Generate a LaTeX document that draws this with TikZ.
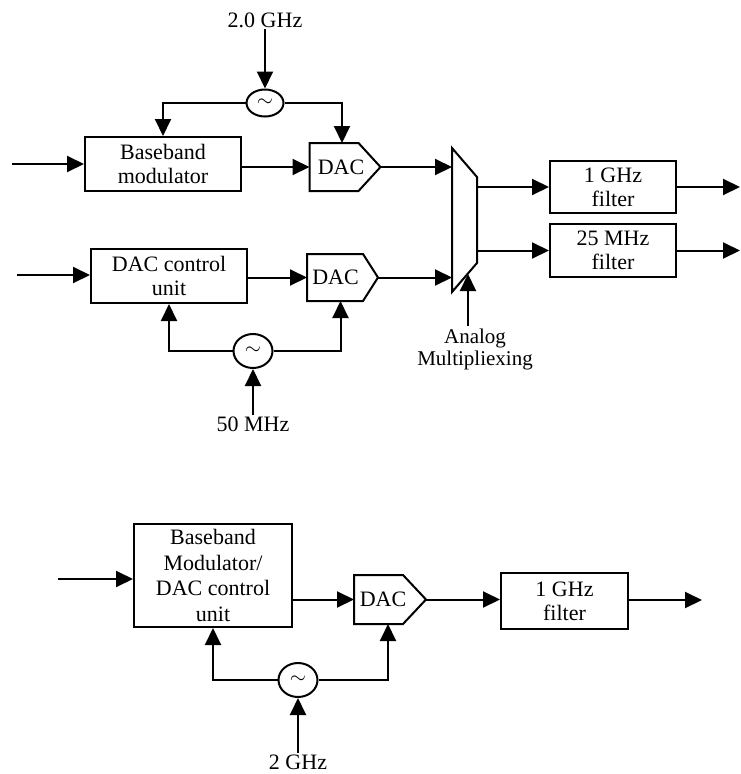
\documentclass[tikz,border=0pt]{standalone}
\usepackage{fontspec}
\setmainfont{Liberation Serif}
\usetikzlibrary{arrows.meta,shapes.geometric,calc}
\begin{document}
\begin{tikzpicture}[x=1pt,y=-1pt,
  line width=2pt,
  every node/.style={font=\fontsize{22}{24}\selectfont, align=center},
  arr/.style={-{Triangle[length=17pt,width=16pt]}},
  blk/.style={draw, rectangle, inner sep=0pt},
  dacbody/.style={rectangle, inner sep=0pt, minimum width=69pt, minimum height=46pt},
  osc/.style={draw, ellipse, inner sep=0pt},
  tld/.style={font=\fontsize{22}{22}\selectfont},
  lbl/.style={inner sep=1pt}]
\useasboundingbox (0,0) rectangle (740,774);

% ---------- top section ----------
\node[lbl] (l20) at (265,20) {2.0 GHz};
\node[osc, tld, minimum width=37pt, minimum height=27pt] (osc1) at (265,103) {$\sim$};
\node[blk, minimum width=156pt, minimum height=54pt] (bbm) at (163,164) {Baseband\\modulator};
\node[dacbody] (dac1) at (345,167) {};
\node at ($(dac1.center)+(-4,0)$) {DAC};
\draw (dac1.north west) -- ([xshift=-22pt]dac1.north east) -- (dac1.east) -- ([xshift=-22pt]dac1.south east) -- (dac1.south west) -- cycle;
\coordinate (in1) at (12,164);

\node[blk, minimum width=156pt, minimum height=54pt] (dcu) at (169,276) {DAC control\\unit};
\node[dacbody, minimum width=69pt, minimum height=45pt] (dac2) at (342.5,277.5) {};
\node at ($(dac2.center)+(-7,0)$) {DAC};
\draw (dac2.north west) -- ([xshift=-15pt]dac2.north east) -- (dac2.east) -- ([xshift=-15pt]dac2.south east) -- (dac2.south west) -- cycle;
\coordinate (in2) at (17,275);
\node[osc, tld, minimum width=39pt, minimum height=34pt] (osc2) at (253,351) {$\sim$};
\node[lbl] (l50) at (253,424) {50 MHz};

% multiplexer
\coordinate (m1) at (452,148);
\coordinate (m2) at (477,177);
\coordinate (m3) at (477,263);
\coordinate (m4) at (452,292);
\coordinate (mb) at (468,274);
\draw (m1) -- (m2) -- (m3) -- (m4) -- cycle;
\node[lbl, font=\fontsize{21}{22}\selectfont] (mlbl) at (475,349) {Analog\\Multipliexing};

\node[blk, minimum width=126pt, minimum height=52pt] (f1) at (613,187) {1 GHz\\filter};
\node[blk, minimum width=126pt, minimum height=53pt] (f2) at (613,250.5) {25 MHz\\filter};
\coordinate (o1) at (740,187);
\coordinate (o2) at (740,250.5);

% connectors top
\draw[arr] (l20.south) -- (osc1.north);
\draw[arr] (osc1.west) -| (bbm.north);
\draw[arr] (osc1.east) -| ([xshift=-3pt]dac1.north);
\draw[arr] (in1) -- (in1 -| bbm.west);
\draw[arr] (bbm.east |- dac1.west) -- (dac1.west);
\draw[arr] (dac1.east) -- (dac1.east -| m1);
\draw[arr] (in2) -- (in2 -| dcu.west);
\draw[arr] (dcu.east |- dac2.west) -- (dac2.west);
\draw[arr] (dac2.east) -- (dac2.east -| m4);
\draw[arr] (osc2.west) -| (dcu.south);
\draw[arr] (osc2.east) -| ([xshift=-2pt]dac2.south);
\draw[arr] (l50.north) -- (osc2.south);
\draw[arr] (mlbl.north -| mb) -- (mb);
\draw[arr] (m2 |- f1.west) -- (f1.west);
\draw[arr] (m3 |- f2.west) -- (f2.west);
\draw[arr] (f1.east) -- (o1);
\draw[arr] (f2.east) -- (o2);

% ---------- bottom section ----------
\node[blk, minimum width=158pt, minimum height=103pt, font=\fontsize{22}{25.5}\selectfont] (big) at (213,575.5) {Baseband\\Modulator/\\DAC control\\unit};
\coordinate (in3) at (58,579);
\node[dacbody, minimum width=70pt, minimum height=47pt] (dac3) at (390,599.5) {};
\node at ($(dac3.center)+(-7,0)$) {DAC};
\draw (dac3.north west) -- ([xshift=-23pt]dac3.north east) -- (dac3.east) -- ([xshift=-23pt]dac3.south east) -- (dac3.south west) -- cycle;
\node[blk, minimum width=127pt, minimum height=56pt] (f3) at (564.5,601) {1 GHz\\filter};
\coordinate (o3) at (702,600);
\node[osc, tld, minimum width=39pt, minimum height=34pt] (osc3) at (298,680) {$\sim$};
\node[lbl] (l2) at (298,762) {2 GHz};

\draw[arr] (in3) -- (in3 -| big.west);
\draw[arr] (big.east |- dac3.west) -- (dac3.west);
\draw[arr] (dac3.east) -- (dac3.east -| f3.west);
\draw[arr] (f3.east |- o3) -- (o3);
\draw[arr] (osc3.west) -| (big.south);
\draw[arr] (osc3.east) -| ([xshift=-2pt]dac3.south);
\draw[arr] (l2.north) -- (osc3.south);
\end{tikzpicture}
\end{document}
